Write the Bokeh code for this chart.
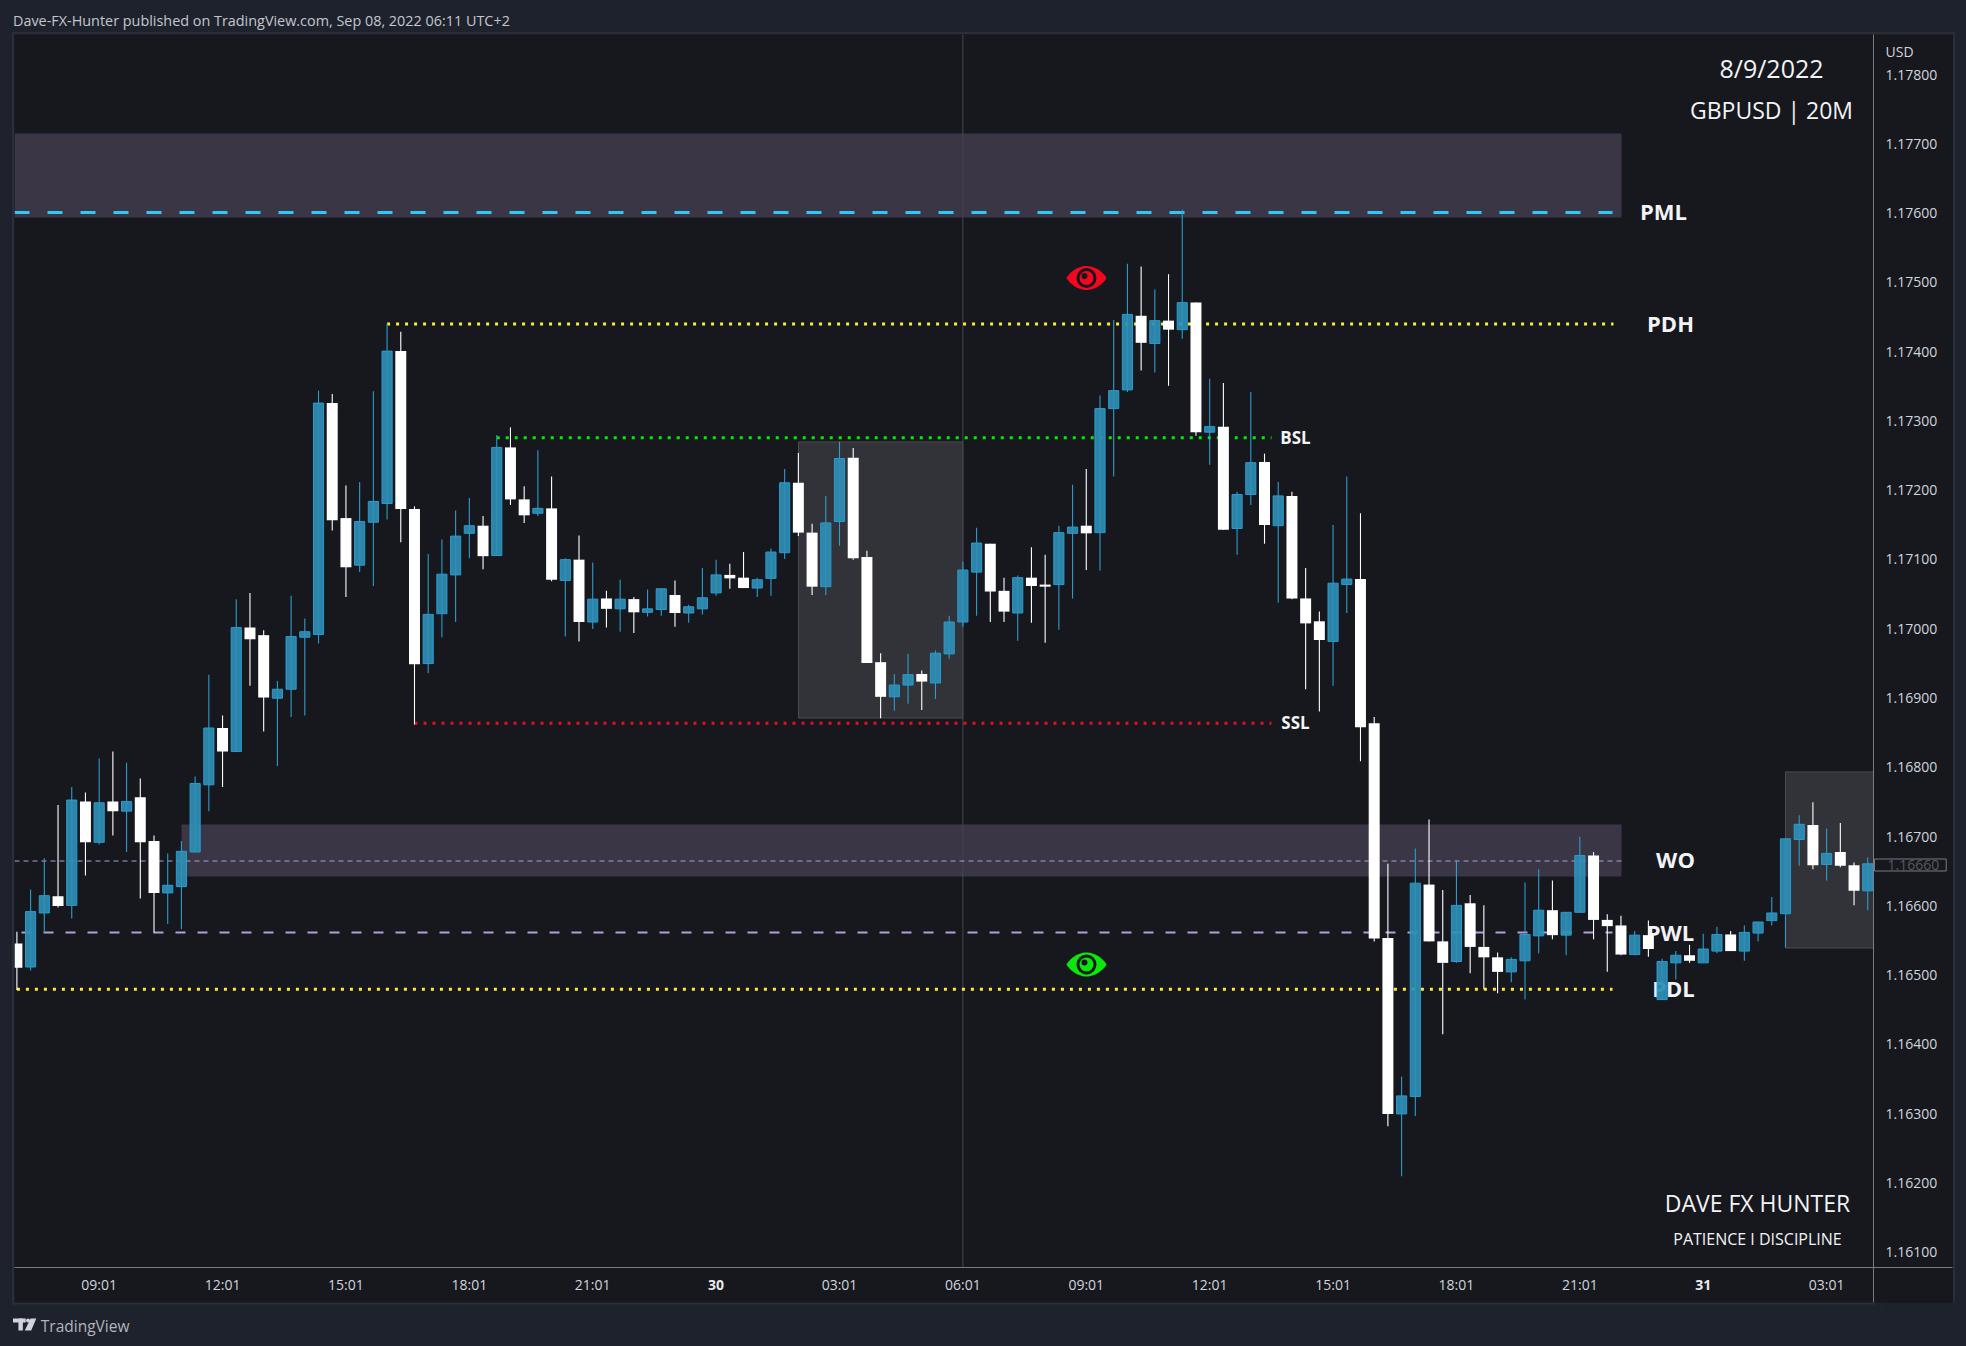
from bokeh.plotting import figure
from bokeh.embed import file_html
from bokeh.resources import INLINE
from bokeh.layouts import column
from bokeh.models import Range1d, LinearAxis, FixedTicker, Label, ColumnDataSource
from bokeh.core.properties import value
import numpy as np

opens = [1.16545,1.16511,1.16589,1.16613,1.16600,1.16750,1.16691,1.16750,1.16736,1.16756,
1.16693,1.16618,1.16627,1.16677,1.16774,1.16856,1.16822,1.17001,1.16990,1.16899,
1.16912,1.16987,1.16991,1.17325,1.17159,1.17091,1.17153,1.17180,1.17400,1.17172,
1.16949,1.17021,1.17077,1.17137,1.17148,1.17105,1.17261,1.17186,1.17166,1.17173,
1.17069,1.17099,1.17009,1.17043,1.17028,1.17042,1.17023,1.17027,1.17048,1.17022,
1.17028,1.17051,1.17077,1.17073,1.17058,1.17072,1.17109,1.17210,1.17138,1.17060,
1.17154,1.17246,1.17103,1.16951,1.16901,1.16918,1.16934,1.16921,1.16963,1.17009,
1.17081,1.17122,1.17054,1.17022,1.17073,1.17063,1.17063,1.17137,1.17148,1.17138,
1.17317,1.17344,1.17451,1.17411,1.17444,1.17431,1.17470,1.17283,1.17291,1.17144,
1.17193,1.17240,1.17148,1.17191,1.17043,1.17010,1.16981,1.17063,1.17071,1.16863,
1.16553,1.16299,1.16324,1.16630,1.16548,1.16519,1.16603,1.16540,1.16525,1.16504,
1.16520,1.16556,1.16593,1.16557,1.16590,1.16672,1.16579,1.16571,1.16529,1.16557,
1.16464,1.16517,1.16528,1.16517,1.16534,1.16558,1.16534,1.16560,1.16578,1.16588,
1.16695,1.16716,1.16659,1.16677,1.16658,1.16621]

closes = [1.16510,1.16591,1.16614,1.16599,1.16752,1.16691,1.16748,1.16736,1.16750,1.16691,
1.16618,1.16629,1.16678,1.16776,1.16856,1.16822,1.17001,1.16984,1.16900,1.16912,
1.16988,1.16995,1.17325,1.17156,1.17088,1.17154,1.17183,1.17400,1.17172,1.16948,
1.17020,1.17078,1.17133,1.17148,1.17104,1.17261,1.17186,1.17163,1.17173,1.17070,
1.17099,1.17009,1.17042,1.17028,1.17042,1.17023,1.17028,1.17057,1.17022,1.17031,
1.17044,1.17077,1.17072,1.17058,1.17070,1.17110,1.17210,1.17138,1.17060,1.17152,
1.17245,1.17101,1.16950,1.16901,1.16918,1.16933,1.16923,1.16964,1.17009,1.17084,
1.17123,1.17053,1.17024,1.17073,1.17061,1.17060,1.17138,1.17146,1.17137,1.17317,
1.17343,1.17453,1.17412,1.17444,1.17431,1.17470,1.17283,1.17291,1.17142,1.17193,
1.17239,1.17149,1.17191,1.17043,1.17007,1.16983,1.17065,1.17071,1.16857,1.16552,
1.16299,1.16325,1.16632,1.16548,1.16517,1.16600,1.16540,1.16525,1.16504,1.16522,
1.16558,1.16593,1.16557,1.16590,1.16672,1.16579,1.16570,1.16529,1.16557,1.16537,
1.16519,1.16528,1.16520,1.16537,1.16558,1.16534,1.16561,1.16576,1.16589,1.16696,
1.16717,1.16658,1.16675,1.16657,1.16621,1.16660]

highs = [1.16562,1.16623,1.16668,1.16745,1.16771,1.16763,1.16812,1.16822,1.16806,1.16783,
1.16701,1.16675,1.16693,1.16786,1.16933,1.16874,1.17042,1.17051,1.16997,1.16924,
1.17047,1.17014,1.17343,1.17338,1.17206,1.17211,1.17342,1.17440,1.17428,1.17176,
1.17107,1.17128,1.17170,1.17188,1.17162,1.17279,1.17290,1.17205,1.17257,1.17219,
1.17101,1.17134,1.17095,1.17054,1.17070,1.17045,1.17056,1.17057,1.17069,1.17034,
1.17087,1.17099,1.17093,1.17110,1.17073,1.17115,1.17230,1.17253,1.17151,1.17191,
1.17269,1.17260,1.17112,1.16964,1.16934,1.16963,1.16939,1.16968,1.17018,1.17096,
1.17145,1.17122,1.17073,1.17076,1.17117,1.17106,1.17148,1.17207,1.17230,1.17336,
1.17445,1.17526,1.17522,1.17489,1.17511,1.17604,1.17470,1.17360,1.17354,1.17197,
1.17341,1.17252,1.17211,1.17197,1.17087,1.17024,1.17149,1.17219,1.17166,1.16872,
1.16660,1.16353,1.16682,1.16724,1.16622,1.16665,1.16615,1.16600,1.16532,1.16525,
1.16633,1.16652,1.16636,1.16590,1.16699,1.16677,1.16587,1.16585,1.16563,1.16578,
1.16523,1.16534,1.16543,1.16559,1.16569,1.16563,1.16571,1.16576,1.16612,1.16696,
1.16730,1.16749,1.16711,1.16719,1.16662,1.16669]

lows = [1.16478,1.16506,1.16561,1.16597,1.16581,1.16643,1.16688,1.16701,1.16677,1.16610,
1.16561,1.16573,1.16566,1.16677,1.16736,1.16771,1.16822,1.16917,1.16851,1.16801,
1.16872,1.16874,1.16978,1.17141,1.17045,1.17081,1.17061,1.17157,1.17124,1.16861,
1.16935,1.16987,1.17009,1.17101,1.17085,1.17105,1.17178,1.17152,1.17162,1.17068,
1.16988,1.16981,1.16999,1.17001,1.16995,1.16993,1.17017,1.17018,1.17002,1.17008,
1.17020,1.17047,1.17057,1.17058,1.17045,1.17047,1.17100,1.17133,1.17048,1.17048,
1.17119,1.17099,1.16950,1.16870,1.16881,1.16891,1.16882,1.16898,1.16956,1.17002,
1.17018,1.17009,1.17009,1.16982,1.17008,1.16979,1.16998,1.17043,1.17084,1.17083,
1.17219,1.17341,1.17372,1.17369,1.17350,1.17418,1.17278,1.17236,1.17142,1.17106,
1.17178,1.17122,1.17037,1.17042,1.16912,1.16880,1.16917,1.17022,1.16808,1.16548,
1.16281,1.16209,1.16296,1.16548,1.16414,1.16517,1.16502,1.16479,1.16473,1.16489,
1.16464,1.16531,1.16551,1.16528,1.16590,1.16551,1.16504,1.16528,1.16528,1.16526,
1.16464,1.16493,1.16517,1.16517,1.16531,1.16534,1.16520,1.16548,1.16571,1.16539,
1.16657,1.16652,1.16636,1.16655,1.16600,1.16593]

y_tick_values = [1.161,1.162,1.163,1.164,1.165,1.166,1.167,1.168,1.169,1.170,1.171,1.172,1.173,1.174,1.175,1.176,1.177,1.178]
x_tick_bars = [6,15,24,33,42,60,69,78,87,96,105,114,132]
x_tick_labels = ["09:01","12:01","15:01","18:01","21:01","03:01","06:01","09:01","12:01","15:01","18:01","21:01","03:01"]
day_bars = [51,123]
day_labels = ["30","31"]
last_price = 1.16660
unit_label = "USD"

# levels, prices
pml_level = 1.17600
pdh_level = 1.17439
bsl_level = 1.17275
ssl_level = 1.16863
wo_level = 1.16664
pwl_level = 1.16561
pdl_level = 1.16479

BG = "#1e222d"; PANEL = "#16181e"; EDGE = "#2a2e39"; AXIS = "#787b86"
FONT = "Open Sans"
TICK = "#d1d4dc"

# conversions from the reference's pixel grid (annotations only)
X = lambda px: (px - 16.4) / 13.71
Y = lambda py: 1.178 - (py - 73.5) / 69280
x_end = X(1873); y_bottom = Y(1267)

p = figure(width=1939, height=1283, output_backend="svg", toolbar_location=None,
           x_range=Range1d(X(14), x_end), y_range=Range1d(y_bottom, Y(34)),
           x_axis_location="below", y_axis_location="right",
           min_border_left=0, min_border_top=0, min_border_right=80, min_border_bottom=50,
           frame_width=1859, frame_height=1233, margin=(0, 0, 0, 14),
           styles={"box-shadow": f"0 0 0 2px {EDGE}"})
p.outline_line_color = None
p.border_fill_color = PANEL
p.background_fill_color = PANEL
p.grid.visible = False

def flat(axis, **kw):
    axis.major_tick_in = 0
    axis.minor_tick_in = 0
    axis.minor_tick_out = 0
    axis.major_tick_out = kw.pop("tick_out", 0)
    axis.minor_tick_line_color = None
    axis.major_tick_line_color = kw.pop("tick_color", None)
    axis.axis_line_color = kw.pop("line_color", None)
    axis.major_label_text_font = FONT
    for k, v in kw.items():
        setattr(axis, k, v)

# time axis
xa = p.xaxis[0]
xa.ticker = FixedTicker(ticks=x_tick_bars)
xa.major_label_overrides = {k: v for k, v in zip(x_tick_bars, x_tick_labels)}
flat(xa, major_label_standoff=-40, major_label_text_color=TICK, major_label_text_font_size="14px")

# bold day labels, laid over the time axis
xb = LinearAxis(ticker=FixedTicker(ticks=day_bars),
                major_label_overrides={k: v for k, v in zip(day_bars, day_labels)})
flat(xb, major_label_standoff=-35, major_label_text_color="#e8e9ec",
     major_label_text_font_size="14px", major_label_text_font_style="bold")

# axis rule with the vertical separator of the lower right corner
xr = LinearAxis(ticker=FixedTicker(ticks=[x_end]), major_label_overrides={x_end: ""})
flat(xr, tick_out=35, tick_color=AXIS, line_color=AXIS, major_label_standoff=-35, major_label_text_font_size="0px")

# last price tag
tag = Label(x=1874-14, y=864.5-34, x_units="canvas", y_units="canvas", text=f"{last_price:.5f}",
            text_align="left", text_baseline="middle", text_color="#565962",
            text_font=FONT, text_font_size="14px",
            background_fill_color=PANEL, border_line_color=AXIS, padding=(13, 7, 1, 1))
p.below = [xr, tag, xa, xb]

# price axis
ya = p.yaxis[0]
usd_tick = Y(51)
ya.ticker = FixedTicker(ticks=y_tick_values + [usd_tick])
ya.major_label_overrides = {**{v: f"{v:.5f}" for v in y_tick_values}, usd_tick: unit_label}
flat(ya, major_label_standoff=-67, major_label_text_color=TICK, major_label_text_font_size="14px")

yr = LinearAxis(ticker=FixedTicker(ticks=[y_bottom]), major_label_overrides={y_bottom: ""})
flat(yr, tick_out=79, tick_color=AXIS, line_color=AXIS, major_label_standoff=-79, major_label_text_font_size="0px")
p.right = [yr, ya]

# zones
ZONE = "#3b3646"
p.quad(left=[X(14)], right=[X(1621)], top=[Y(133)], bottom=[Y(217)], fill_color=ZONE, line_color=None)
p.quad(left=[X(181)], right=[X(1621)], top=[Y(824)], bottom=[Y(876)], fill_color=ZONE, line_color=None)
GREY = "#323338"
p.quad(left=[X(798)], right=[X(962.4)], top=[Y(441.4)], bottom=[Y(717.5)], fill_color=GREY, line_color="#4a4b50", line_width=1)
p.quad(left=[X(1785)], right=[X(1873)], top=[Y(771.4)], bottom=[Y(947.5)], fill_color=GREY, line_color="#4a4b50", line_width=1)

# vertical marker
p.segment([69], [Y(34)], [69], [Y(1267)], line_color="#44464f", line_width=1)

# levels
p.line([X(14), X(1612)], [pml_level]*2, line_color="#2ec9f7", line_width=3, line_dash="15 18")
p.line([27, X(1613)], [pdh_level]*2, line_color="#ffeb3b", line_width=3, line_dash="3 6")
p.line([35, X(1271)], [bsl_level]*2, line_color="#00ee00", line_width=3, line_dash="3 6")
p.line([29, X(1271)], [ssl_level]*2, line_color="#f00b1a", line_width=3, line_dash="3 6")
p.line([0, X(1612)], [pdl_level]*2, line_color="#ffeb3b", line_width=3, line_dash="3 6")
p.line([X(21), X(1612)], [pwl_level]*2, line_color="#b39ddb", line_width=2, line_dash="10 12")
p.line([X(14), X(1622)], [wo_level]*2, line_color="#b39ddb", line_width=1, line_dash="5 4")

# chart labels sit below the candles
def chart_text(txt, px, py, size, bold=True):
    p.text([X(px)], [Y(py)], text=[txt], text_align="center", text_baseline="middle",
           text_color="#f2f3f5", text_font=value(FONT), text_font_size=size,
           text_font_style="bold" if bold else "normal")

chart_text("PML", 1663, 210, "22px")
chart_text("PDH", 1670, 322, "22px")
chart_text("BSL", 1295, 437, "17px")
chart_text("SSL", 1295, 722, "17px")
chart_text("WO", 1675, 858, "22px")
chart_text("PWL", 1670, 931, "22px")
chart_text("PDL", 1673, 987, "22px")
chart_text("8/9/2022", 1771, 67, "25px", False)
chart_text("GBPUSD | 20M", 1771, 109, "23px", False)
chart_text("DAVE FX HUNTER", 1757, 1202, "23px", False)
chart_text("PATIENCE I DISCIPLINE", 1757, 1238, "16px", False)

# eyes
def eye(px, py, color):
    t = np.linspace(0, 2*np.pi, 80)
    ex = 20*np.cos(t)
    ey = np.sign(np.sin(t))*12*(1-np.cos(t)**2)**0.85
    p.patch(X(px+ex), Y(py+ey), fill_color=color, line_color=None)
    p.circle([X(px)], [Y(py)], radius=10/13.71, fill_color=PANEL, line_color=None)
    p.circle([X(px)], [Y(py)], radius=7/13.71, fill_color=color, line_color=None)
    p.circle([X(px-2)], [Y(py-2)], radius=3/13.71, fill_color=PANEL, line_color=None)

eye(1086, 277.5, "#f5051f")
eye(1086, 964, "#0be60b")

# candles
idx = list(range(len(opens)))
up = [c >= o for o, c in zip(opens, closes)]
def pick(seq, flag):
    return [v for v, u in zip(seq, up) if u == flag]

for flag, body, edge, alpha, w, lw in [(True, "#2f8fb5", "#2b9ad0", 0.92, 0.74, 1), (False, "#ffffff", None, 1, 0.8, 0)]:
    src = ColumnDataSource(dict(
        x=pick(idx, flag), h=pick(highs, flag), l=pick(lows, flag),
        t=[max(o, c) for o, c in zip(pick(opens, flag), pick(closes, flag))],
        b=[min(o, c) for o, c in zip(pick(opens, flag), pick(closes, flag))]))
    p.segment("x", "h", "x", "l", source=src, line_color="#2e9ccd" if flag else "#ffffff", line_width=1.1)
    p.vbar(x="x", width=w, top="t", bottom="b", source=src, fill_color=body, fill_alpha=alpha,
           line_color=edge, line_width=lw)

def strip(height, y0, y1):
    f = figure(width=1966, height=height, output_backend="svg", toolbar_location=None,
               x_range=Range1d(0, 1966), y_range=Range1d(y1, y0),
               min_border=0, x_axis_type=None, y_axis_type=None)
    f.grid.visible = False
    f.outline_line_color = None
    f.border_fill_color = BG
    f.background_fill_color = BG
    return f

head = strip(32, 0, 32)
head.text([13], [20], text=["Dave-FX-Hunter published on TradingView.com, Sep 08, 2022 06:11 UTC+2"],
          text_baseline="middle", text_color="#c3c6ce", text_font=value(FONT), text_font_size="14.4px")

foot = strip(44, 1302, 1346)
foot.quad(left=[12], right=[1955], top=[1302], bottom=[1304], fill_color=EDGE, line_color=None)
foot.text([42], [1325], text=["TradingView"], text_baseline="middle", text_color="#b2b5be",
          text_font=value(FONT), text_font_size="15.5px")
foot.patches([[13, 26.3, 26.3, 13], [18.7, 23.3, 23.3, 18.7], [31.3, 37.3, 32, 25.3]],
             [[1318, 1318, 1322, 1322], [1318, 1318, 1330, 1330], [1318, 1318, 1330, 1330]],
             fill_color="#d1d4dc", line_color=None)
foot.circle([28.7], [1320], radius=2, fill_color="#d1d4dc", line_color=None)

page = column(head, p, foot, spacing=0, width=1966, height=1346, styles={"background-color": BG})
head.margin = (0, 0, 2, 0)
foot.margin = (-15, 0, 0, 0)

html = file_html(page, INLINE)
open("out.html", "w").write(html)
